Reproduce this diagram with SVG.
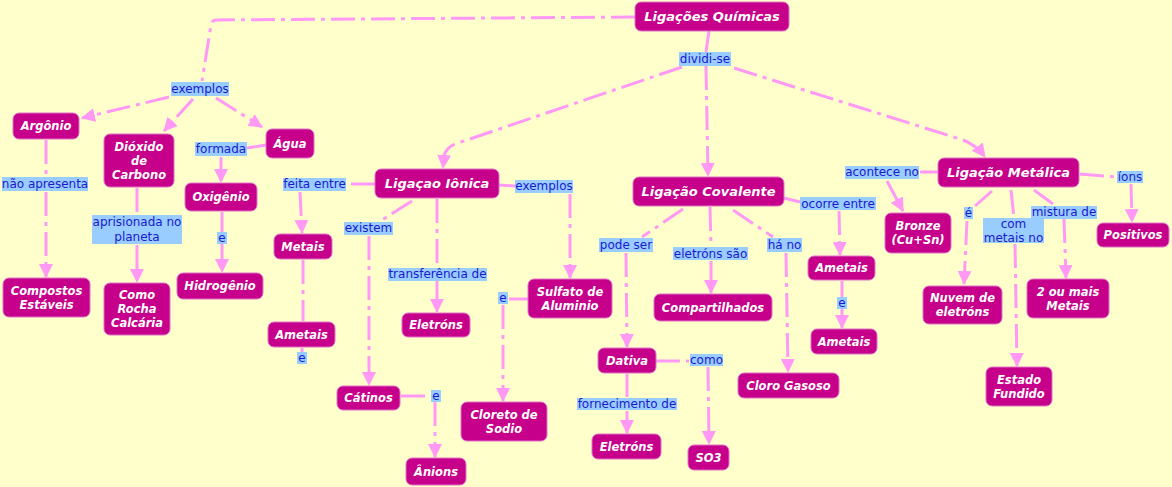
<svg xmlns="http://www.w3.org/2000/svg" width="1172" height="487" viewBox="0 0 1172 487">
<defs>
<marker id="a" viewBox="0 0 14 14" markerWidth="14" markerHeight="14" markerUnits="userSpaceOnUse" refX="13" refY="7" orient="auto">
<path d="M0,0 L14,7 L0,14 z" fill="#FF99F5"/>
</marker>
<style>
.c path{fill:none;stroke:#FF99F5;stroke-width:3;stroke-dasharray:24 6 4 6}
.c path.m{marker-end:url(#a)}
.n rect{fill:#C6008A;stroke:#E070C8;stroke-width:1}
.n text{font-family:"DejaVu Sans",Verdana,sans-serif;font-weight:bold;font-style:italic;font-size:11.5px;fill:#FFFFFF;text-anchor:middle}
.n text.big{font-size:13px}
.l rect{fill:#99CCFF}
.l text{font-family:"DejaVu Sans",Verdana,sans-serif;font-size:12px;fill:#1A1ACC;text-anchor:middle}
</style>
</defs>
<rect width="1172" height="487" fill="#FFFFCC"/>

<g class="c">
<path d="M635,17 L216,20 Q212,20 211,25 L202,81"/>
<path class="m" d="M169,97 L82,118"/>
<path class="m" d="M193,99 L164,131"/>
<path class="m" d="M216,98 L262,127"/>
<path d="M266,145 L247,148"/>
<path class="m" d="M221,157 L221,182"/>
<path d="M222,212 L222,232"/>
<path class="m" d="M222,244 L222,272"/>
<path d="M46,140 L46,177"/>
<path class="m" d="M46,192 L46,277"/>
<path d="M137,188 L137,215"/>
<path class="m" d="M137,245 L137,282"/>
<path d="M709,31 L706,52"/>
<path class="m" d="M682,67 L455,144 Q446,148 444,156 L443,168"/>
<path class="m" d="M706,66 L708,176"/>
<path class="m" d="M734,68 L963,140 Q976,145 985,157"/>
<path d="M375,184 L347,184"/>
<path class="m" d="M300,192 L302,233"/>
<path d="M303,260 L303,321"/>
<path d="M302,348 L302,353"/>
<path d="M412,201 L382,220"/>
<path class="m" d="M369,236 L369,385"/>
<path d="M437,199 L437,268"/>
<path class="m" d="M437,281 L437,312"/>
<path d="M499,185 L515,186"/>
<path class="m" d="M570,194 L570,278"/>
<path d="M528,299 L509,299"/>
<path class="m" d="M503,305 L503,401"/>
<path d="M401,396 L430,396"/>
<path class="m" d="M435,402 L435,457"/>
<path d="M683,209 L642,237"/>
<path class="m" d="M626,253 L627,347"/>
<path d="M710,207 L711,247"/>
<path class="m" d="M711,261 L711,293"/>
<path d="M733,210 L773,237"/>
<path class="m" d="M786,253 L788,372"/>
<path d="M784,198 L800,202"/>
<path class="m" d="M839,211 L840,255"/>
<path d="M842,281 L842,297"/>
<path class="m" d="M842,309 L842,328"/>
<path d="M656,361 L689,361"/>
<path class="m" d="M708,367 L709,444"/>
<path d="M627,374 L627,397"/>
<path class="m" d="M627,411 L627,433"/>
<path d="M938,172 L920,172"/>
<path class="m" d="M887,181 L903,211"/>
<path d="M1080,174 L1116,177"/>
<path class="m" d="M1131,184 L1132,222"/>
<path d="M992,191 L975,206"/>
<path class="m" d="M967,221 L964,284"/>
<path d="M1011,190 L1014,218"/>
<path class="m" d="M1015,244 L1017,366"/>
<path d="M1034,190 L1053,204"/>
<path class="m" d="M1064,219 L1066,278"/>
</g>

<g class="l">
<g id="l-exemplos1"><rect x="171" y="82" width="58" height="14"/><text x="200" y="93">exemplos</text></g>
<g id="l-dividise"><rect x="679" y="52" width="52" height="14"/><text x="705" y="63">dividi-se</text></g>
<g id="l-naoapresenta"><rect x="2" y="177" width="86" height="14"/><text x="45" y="188">não apresenta</text></g>
<g id="l-formada"><rect x="195" y="142" width="52" height="14"/><text x="221" y="153">formada</text></g>
<g id="l-aprisionada"><rect x="92" y="215" width="90" height="29"/><text x="137" y="226">aprisionada no</text><text x="137" y="241">planeta</text></g>
<g id="l-e1"><rect x="217" y="232" width="10" height="12"/><text x="222" y="242">e</text></g>
<g id="l-feitaentre"><rect x="283" y="178" width="63" height="13"/><text x="314.5" y="188">feita entre</text></g>
<g id="l-existem"><rect x="344" y="222" width="49" height="13"/><text x="368.5" y="232">existem</text></g>
<g id="l-exemplos2"><rect x="515" y="180" width="58" height="13"/><text x="544" y="190">exemplos</text></g>
<g id="l-transferencia"><rect x="388" y="268" width="99" height="13"/><text x="437.5" y="278">transferência de</text></g>
<g id="l-e2"><rect x="498" y="292" width="10" height="12"/><text x="503" y="302">e</text></g>
<g id="l-e3"><rect x="297" y="352" width="10" height="12"/><text x="302" y="362">e</text></g>
<g id="l-e4"><rect x="431" y="390" width="10" height="12"/><text x="436" y="400">e</text></g>
<g id="l-podeser"><rect x="599" y="238" width="54" height="14"/><text x="626" y="249">pode ser</text></g>
<g id="l-eletronssao"><rect x="673" y="247" width="75" height="13"/><text x="710.5" y="258">eletróns são</text></g>
<g id="l-hano"><rect x="767" y="238" width="35" height="14"/><text x="784.5" y="249">há no</text></g>
<g id="l-ocorreentre"><rect x="800" y="197" width="76" height="13"/><text x="838" y="208">ocorre entre</text></g>
<g id="l-e5"><rect x="837" y="297" width="10" height="12"/><text x="842" y="307">e</text></g>
<g id="l-como"><rect x="690" y="354" width="33" height="12"/><text x="706.5" y="364">como</text></g>
<g id="l-fornecimento"><rect x="577" y="398" width="100" height="12"/><text x="627" y="408">fornecimento de</text></g>
<g id="l-aconteceno"><rect x="845" y="166" width="74" height="13"/><text x="882" y="176">acontece no</text></g>
<g id="l-ions"><rect x="1117" y="171" width="26" height="12"/><text x="1130" y="181">íons</text></g>
<g id="l-e6"><rect x="964" y="207" width="9" height="12"/><text x="968.5" y="217">é</text></g>
<g id="l-commetais"><rect x="983" y="218" width="61" height="25"/><text x="1013.5" y="228">com</text><text x="1013.5" y="242">metais no</text></g>
<g id="l-mistura"><rect x="1031" y="206" width="66" height="13"/><text x="1064" y="216">mistura de</text></g>
</g>

<g class="n">
<g id="n-quimicas"><rect x="635" y="2" width="154" height="29" rx="6"/><text class="big" x="712" y="21">Ligações Químicas</text></g>
<g id="n-ionica"><rect x="375" y="169" width="124" height="29" rx="6"/><text class="big" x="437" y="188">Ligaçao Iônica</text></g>
<g id="n-covalente"><rect x="633" y="177" width="151" height="29" rx="6"/><text class="big" x="708.5" y="196">Ligação Covalente</text></g>
<g id="n-metalica"><rect x="938" y="158" width="141" height="29" rx="6"/><text class="big" x="1008.5" y="177">Ligação Metálica</text></g>
<g id="n-argonio"><rect x="13" y="113" width="66" height="26" rx="6"/><text x="46" y="130">Argônio</text></g>
<g id="n-dioxido"><rect x="104" y="134" width="70" height="53" rx="6"/><text x="139" y="151">Dióxido</text><text x="139" y="165">de</text><text x="139" y="179">Carbono</text></g>
<g id="n-agua"><rect x="266" y="129" width="48" height="29" rx="6"/><text x="290" y="148">Água</text></g>
<g id="n-oxigenio"><rect x="185" y="183" width="72" height="28" rx="6"/><text x="221" y="201">Oxigênio</text></g>
<g id="n-metais"><rect x="274" y="234" width="58" height="25" rx="6"/><text x="303" y="250.5">Metais</text></g>
<g id="n-ametais1"><rect x="268" y="322" width="67" height="25" rx="6"/><text x="301.5" y="338.5">Ametais</text></g>
<g id="n-compostos"><rect x="3" y="278" width="87" height="39" rx="6"/><text x="46.5" y="294.5">Compostos</text><text x="46.5" y="308.5">Estáveis</text></g>
<g id="n-rocha"><rect x="104" y="283" width="66" height="52" rx="6"/><text x="137" y="299">Como</text><text x="137" y="313">Rocha</text><text x="137" y="327">Calcária</text></g>
<g id="n-hidrogenio"><rect x="177" y="273" width="86" height="26" rx="6"/><text x="220" y="290">Hidrogênio</text></g>
<g id="n-catinos"><rect x="337" y="386" width="63" height="24" rx="6"/><text x="368.5" y="402">Cátinos</text></g>
<g id="n-anions"><rect x="406" y="458" width="60" height="27" rx="6"/><text x="436" y="475.5">Ânions</text></g>
<g id="n-eletrons1"><rect x="402" y="313" width="68" height="24" rx="6"/><text x="436" y="329">Eletróns</text></g>
<g id="n-sulfato"><rect x="528" y="279" width="84" height="39" rx="6"/><text x="570" y="295.5">Sulfato de</text><text x="570" y="309.5">Aluminio</text></g>
<g id="n-cloreto"><rect x="461" y="402" width="86" height="39" rx="6"/><text x="504" y="418.5">Cloreto de</text><text x="504" y="432.5">Sodio</text></g>
<g id="n-dativa"><rect x="598" y="348" width="58" height="25" rx="6"/><text x="627" y="364.5">Dativa</text></g>
<g id="n-eletrons2"><rect x="592" y="434" width="69" height="25" rx="6"/><text x="626.5" y="450.5">Eletróns</text></g>
<g id="n-so3"><rect x="688" y="445" width="41" height="25" rx="6"/><text x="708.5" y="461.5">SO3</text></g>
<g id="n-compartilhados"><rect x="654" y="294" width="118" height="27" rx="6"/><text x="713" y="311.5">Compartilhados</text></g>
<g id="n-cloro"><rect x="738" y="373" width="101" height="25" rx="6"/><text x="788.5" y="389.5">Cloro Gasoso</text></g>
<g id="n-ametais2"><rect x="808" y="256" width="67" height="24" rx="6"/><text x="841.5" y="272">Ametais</text></g>
<g id="n-ametais3"><rect x="811" y="329" width="66" height="25" rx="6"/><text x="844" y="345.5">Ametais</text></g>
<g id="n-bronze"><rect x="885" y="213" width="66" height="40" rx="6"/><text x="918" y="230">Bronze</text><text x="918" y="244">(Cu+Sn)</text></g>
<g id="n-positivos"><rect x="1097" y="223" width="72" height="24" rx="6"/><text x="1133" y="239">Positivos</text></g>
<g id="n-nuvem"><rect x="923" y="286" width="79" height="38" rx="6"/><text x="962.5" y="302">Nuvem de</text><text x="962.5" y="316">eletróns</text></g>
<g id="n-2oumais"><rect x="1027" y="279" width="82" height="39" rx="6"/><text x="1068" y="295.5">2 ou mais</text><text x="1068" y="309.5">Metais</text></g>
<g id="n-estado"><rect x="986" y="367" width="66" height="39" rx="6"/><text x="1019" y="383.5">Estado</text><text x="1019" y="397.5">Fundido</text></g>
</g>
</svg>
